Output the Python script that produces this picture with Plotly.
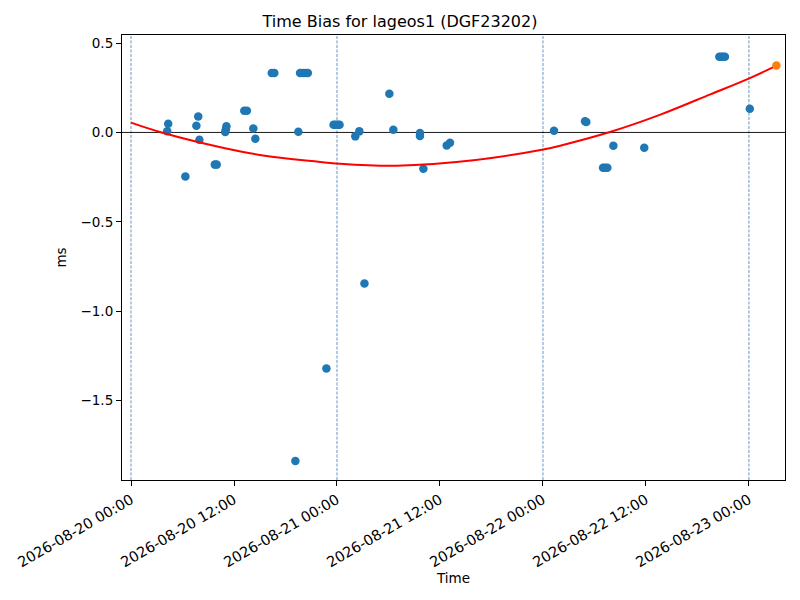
import pandas as pd
import plotly.graph_objects as go

# observed time bias samples (ms)
obs_times = [
    "2026-08-20 04:13", "2026-08-20 04:20", "2026-08-20 06:20", "2026-08-20 07:37",
    "2026-08-20 07:50", "2026-08-20 07:58", "2026-08-20 09:46", "2026-08-20 09:59",
    "2026-08-20 10:59", "2026-08-20 11:03", "2026-08-20 11:07", "2026-08-20 13:12",
    "2026-08-20 13:30", "2026-08-20 14:15", "2026-08-20 14:29", "2026-08-20 16:24",
    "2026-08-20 16:42", "2026-08-20 19:09", "2026-08-20 19:30", "2026-08-20 19:42",
    "2026-08-20 20:00", "2026-08-20 20:18", "2026-08-20 20:36", "2026-08-20 22:46",
    "2026-08-20 23:36", "2026-08-20 23:51", "2026-08-21 00:06", "2026-08-21 00:18",
    "2026-08-21 02:08", "2026-08-21 02:36", "2026-08-21 03:12", "2026-08-21 06:06",
    "2026-08-21 06:34", "2026-08-21 09:40", "2026-08-21 09:40", "2026-08-21 10:04",
    "2026-08-21 12:47", "2026-08-21 13:10", "2026-08-22 01:17", "2026-08-22 04:54",
    "2026-08-22 05:03", "2026-08-22 07:00", "2026-08-22 07:15", "2026-08-22 07:30",
    "2026-08-22 08:12", "2026-08-22 11:48", "2026-08-22 20:33", "2026-08-22 20:48",
    "2026-08-22 21:00", "2026-08-22 21:12", "2026-08-23 00:06",
]
obs_bias = [
    0.007, 0.049, -0.246, 0.037,
    0.089, -0.041, -0.180, -0.180,
    0.002, 0.018, 0.034, 0.121,
    0.121, 0.022, -0.035, 0.333,
    0.333, -1.838, 0.004, 0.333,
    0.333, 0.333, 0.333, -1.320,
    0.043, 0.043, 0.043, 0.043,
    -0.022, 0.006, -0.845, 0.216,
    0.015, -0.003, -0.020, -0.203,
    -0.073, -0.058, 0.009, 0.063,
    0.058, -0.197, -0.197, -0.197,
    -0.074, -0.085, 0.423, 0.423,
    0.423, 0.423, 0.132,
]

# predicted point
pred_time = ["2026-08-23 03:12"]
pred_bias = [0.374]

# fitted trend
fit_times = [
    "2026-08-20 00:00", "2026-08-20 03:34", "2026-08-20 10:57", "2026-08-20 15:36",
    "2026-08-20 21:03", "2026-08-21 00:21", "2026-08-21 06:58", "2026-08-21 15:54",
    "2026-08-22 00:02", "2026-08-22 02:00", "2026-08-22 07:48", "2026-08-22 13:36",
    "2026-08-22 19:30", "2026-08-23 00:06", "2026-08-23 03:12",
]
fit_bias = [
    0.055, 0.0, -0.088, -0.130,
    -0.160, -0.175, -0.186, -0.156,
    -0.095, -0.074, 0.002, 0.098,
    0.213, 0.304, 0.374,
]

FONT = "DejaVu Sans"

fig = go.Figure()

fig.add_trace(
    go.Scatter(
        x=pd.to_datetime(obs_times),
        y=obs_bias,
        mode="markers",
        marker=dict(color="#1f77b4", size=8.5, line=dict(width=0)),
        showlegend=False,
    )
)
fig.add_trace(
    go.Scatter(
        x=pd.to_datetime(fit_times),
        y=fit_bias,
        mode="lines",
        line=dict(color="red", width=2, shape="spline"),
        showlegend=False,
    )
)
fig.add_trace(
    go.Scatter(
        x=pd.to_datetime(pred_time),
        y=pred_bias,
        mode="markers",
        marker=dict(color="#ff7f0e", size=8.5, line=dict(width=0)),
        showlegend=False,
    )
)

# day boundaries as dashed guides
for day in pd.date_range("2026-08-20", "2026-08-23", freq="D"):
    fig.add_vline(
        x=day, line=dict(color="#3f7ab5", width=0.8, dash="3px,1.5px"), layer="below"
    )
fig.add_hline(y=0, line=dict(color="black", width=0.9), layer="below")

axis_common = dict(
    showline=True,
    linecolor="black",
    linewidth=1.1,
    mirror=True,
    ticks="outside",
    ticklen=5,
    tickwidth=1.1,
    tickcolor="black",
    showgrid=False,
    zeroline=False,
    tickfont=dict(family=FONT, size=13.5, color="black"),
)

fig.update_layout(
    width=800,
    height=600,
    paper_bgcolor="white",
    plot_bgcolor="white",
    margin=dict(l=122, r=15, t=35, b=120),
    title=dict(
        text="Time Bias for lageos1 (DGF23202)",
        x=0.5,
        xanchor="center",
        y=1 - 21 / 600,
        yanchor="middle",
        font=dict(family=FONT, size=16, color="black"),
    ),
    xaxis=dict(
        **axis_common,
        range=["2026-08-19 22:57", "2026-08-23 04:12"],
        tick0="2026-08-20 00:00",
        dtick=12 * 3600 * 1000,
        tickformat="%Y-%m-%d %H:%M",
        tickangle=-30,
        title=dict(text="Time", font=dict(family=FONT, size=13.5, color="black"), standoff=4),
    ),
    yaxis=dict(
        **axis_common,
        range=[-1.944, 0.545],
        tickvals=[-1.5, -1.0, -0.5, 0.0, 0.5],
        tickformat=".1f",
        title=dict(text="ms", font=dict(family=FONT, size=13.5, color="black"), standoff=10),
    ),
)
fig.update_xaxes(tickfont_size=14.5)

# drop the page's default body margin so the figure sits at the window origin
fig.write_html(
    "out.html",
    config={"displayModeBar": False},
    post_script="document.body.style.margin='0px';",
)
